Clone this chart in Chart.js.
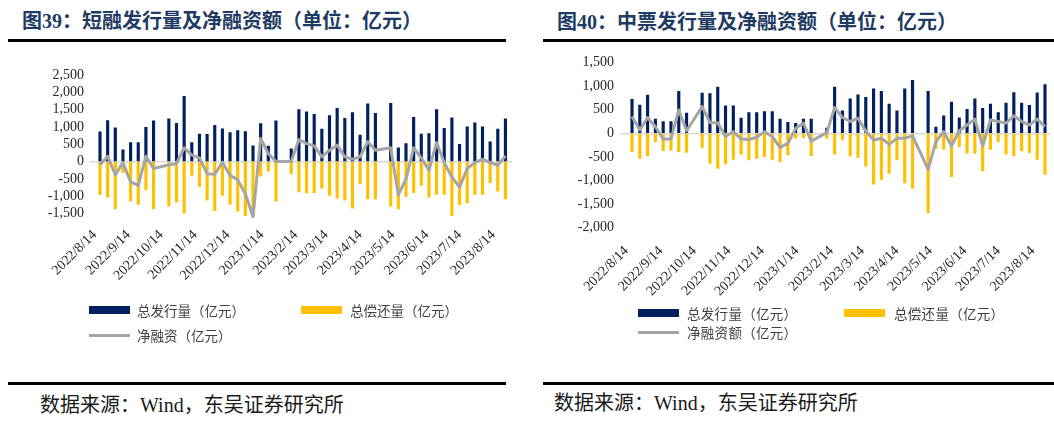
<!DOCTYPE html>
<html><head><meta charset="utf-8">
<script src="https://cdn.jsdelivr.net/npm/chart.js@4.4.0/dist/chart.umd.min.js"></script>
<style>
body{margin:0;width:1054px;height:421px;background:#fff;position:relative;overflow:hidden;font-family:"Liberation Serif","Noto Sans CJK SC",serif;}
.abs{position:absolute;}
.title{font-size:20px;font-weight:bold;color:#1f3b63;white-space:nowrap;line-height:20px;}
.rule{height:3px;background:#000;}
.src{font-size:20px;color:#1a1a1a;white-space:nowrap;line-height:20px;}
.lg{font-size:13.5px;color:#404040;white-space:nowrap;line-height:14px;font-family:"Noto Sans CJK SC",sans-serif;}
.sw{height:8px;}
.ln{height:2.5px;background:#A5A5A5;}
canvas{position:absolute;}
</style></head>
<body>
<div class="abs title" style="left:22px;top:11px;">图39：短融发行量及净融资额（单位：亿元）</div>
<div class="abs title" style="left:557px;top:12px;">图40：中票发行量及净融资额（单位：亿元）</div>
<div class="abs rule" style="left:8px;top:39px;width:498px;"></div>
<div class="abs rule" style="left:543px;top:39px;width:511px;"></div>

<canvas id="c1" width="520" height="250" style="left:0;top:50px;"></canvas>
<canvas id="c2" width="527" height="270" style="left:527px;top:40px;"></canvas>

<div class="abs sw" style="left:89px;top:306px;width:41px;background:#002060;"></div>
<div class="abs lg" style="left:137px;top:303px;">总发行量（亿元）</div>
<div class="abs sw" style="left:301px;top:306px;width:41px;background:#FFC000;"></div>
<div class="abs lg" style="left:350px;top:303px;">总偿还量（亿元）</div>
<div class="abs ln" style="left:89px;top:334px;width:41px;"></div>
<div class="abs lg" style="left:137px;top:328px;">净融资（亿元）</div>

<div class="abs sw" style="left:638px;top:309px;width:41px;background:#002060;"></div>
<div class="abs lg" style="left:687px;top:306px;letter-spacing:0.3px;">总发行量（亿元）</div>
<div class="abs sw" style="left:844px;top:309px;width:41px;background:#FFC000;"></div>
<div class="abs lg" style="left:894px;top:306px;letter-spacing:0.3px;">总偿还量（亿元）</div>
<div class="abs ln" style="left:638px;top:331px;width:41px;"></div>
<div class="abs lg" style="left:687px;top:325px;letter-spacing:0.3px;">净融资额（亿元）</div>

<div class="abs rule" style="left:8px;top:382px;width:498px;"></div>
<div class="abs rule" style="left:543px;top:382px;width:511px;"></div>
<div class="abs src" style="left:40px;top:395px;">数据来源：Wind，东吴证券研究所</div>
<div class="abs src" style="left:554px;top:393px;">数据来源：Wind，东吴证券研究所</div>

<script>
// weekly observation dates
const dates = ["2022/8/19","2022/8/26","2022/9/2","2022/9/9","2022/9/16","2022/9/23","2022/9/30","2022/10/7","2022/10/14","2022/10/21","2022/10/28","2022/11/4","2022/11/11","2022/11/18","2022/11/25","2022/12/2","2022/12/9","2022/12/16","2022/12/23","2022/12/30","2023/1/6","2023/1/13","2023/1/20","2023/1/27","2023/2/3","2023/2/10","2023/2/17","2023/2/24","2023/3/3","2023/3/10","2023/3/17","2023/3/24","2023/3/31","2023/4/7","2023/4/14","2023/4/21","2023/4/28","2023/5/5","2023/5/12","2023/5/19","2023/5/26","2023/6/2","2023/6/9","2023/6/16","2023/6/23","2023/6/30","2023/7/7","2023/7/14","2023/7/21","2023/7/28","2023/8/4","2023/8/11","2023/8/18","2023/8/25"];
const tickLabels = ["2022/8/14","2022/9/14","2022/10/14","2022/11/14","2022/12/14","2023/1/14","2023/2/14","2023/3/14","2023/4/14","2023/5/14","2023/6/14","2023/7/14","2023/8/14"];

// 短融 (CP)
const cpIssue = [860,1190,980,340,550,550,990,1180,null,1240,1110,1890,550,800,790,1050,950,840,900,870,455,1100,450,1180,null,370,1510,1440,1370,940,1330,1540,1250,1420,770,1670,1400,null,1690,400,520,1280,800,810,1510,960,1270,500,1010,1120,1010,570,940,1240];
const cpRepay = [-960,-1030,-1370,-320,-1150,-1240,-820,-1370,null,-1290,-1170,-1490,-400,-720,-1120,-1420,-980,-1240,-1440,-1570,-1580,-420,-280,-1150,null,-350,-880,-910,-900,-770,-980,-1060,-1120,-1350,-650,-1080,-1080,null,-1290,-1370,-1010,-900,-690,-1030,-950,-950,-1560,-1250,-1200,-950,-950,-610,-860,-1080];
const cpNet = [-90,155,-380,-30,-590,-690,155,-200,null,-90,-60,400,185,105,-350,-370,-20,-400,-530,-930,-1600,670,230,0,0,0,640,520,455,135,330,475,135,70,135,580,330,null,400,-960,-510,400,105,-250,550,-30,-450,-740,-200,-30,70,-30,-105,165];

// 中票 (MTN)
const mtnIssue = [720,600,810,300,250,250,890,430,null,850,840,980,580,580,320,440,440,460,460,300,230,210,300,300,null,110,980,475,730,815,760,940,890,620,475,940,1120,null,890,130,370,660,330,510,730,530,620,440,640,865,640,590,860,1030];
const mtnRepay = [-390,-530,-475,-180,-370,-355,-390,-405,null,-300,-640,-745,-650,-555,-440,-565,-530,-495,-555,-605,-460,-105,-90,-475,null,-105,-440,-140,-480,-510,-695,-1080,-980,-850,-565,-1050,-1170,null,-1680,-320,-340,-920,-285,-425,-425,-795,-340,-175,-440,-480,-375,-410,-555,-870];
const mtnNet = [355,70,335,140,-120,-120,495,55,null,565,225,225,-70,35,-120,-130,-85,35,-70,-300,-215,105,215,-165,null,15,545,335,250,320,50,-140,-105,-235,-105,-105,-55,null,-765,-175,35,-270,55,175,300,-270,285,250,215,370,250,175,300,140];

const cpYTicks = [-1500,-1000,-500,0,500,1000,1500,2000,2500];
const mtnYTicks = [-2000,-1500,-1000,-500,0,500,1000,1500];

function dayNum(s){const p=s.split('/').map(Number);return (Date.UTC(p[0],p[1]-1,p[2])-Date.UTC(2022,7,14))/86400000;}
const xDays = dates.map(dayNum);
const tickDays = tickLabels.map(dayNum);
function pts(vals){return vals.map((v,i)=>({x:xDays[i],y:v}));}

function makeChart(id, issue, repay, net, cfg){
  new Chart(document.getElementById(id), {
    type:'bar',
    data:{datasets:[
      {type:'line',label:'net',data:pts(net),borderColor:'#A5A5A5',borderWidth:3,pointRadius:0,tension:0,spanGaps:true,order:0,clip:false,borderJoinStyle:'round'},
      {label:'issue',data:pts(issue),backgroundColor:'#002060',barThickness:2.5,grouped:false,order:1},
      {label:'repay',data:pts(repay),backgroundColor:'#FFC000',barThickness:2.5,grouped:false,order:2}
    ]},
    options:{
      responsive:false, animation:false, devicePixelRatio:1,
      layout:{padding:cfg.pad},
      plugins:{legend:{display:false},tooltip:{enabled:false}},
      scales:{
        x:{type:'linear',offset:false,min:cfg.xmin,max:cfg.xmax,
          grid:{display:false},border:{display:false},
          afterBuildTicks:s=>{s.ticks=tickDays.map(v=>({value:v}));},
          afterFit:s=>{s.height=cfg.xh;},
          ticks:{autoSkip:false,maxRotation:45,minRotation:45,padding:cfg.xpad,
            font:{family:'Liberation Serif',size:14},color:'#262626',
            callback:(v,i)=>tickLabels[i]}},
        y:{min:cfg.ymin,max:cfg.ymax,
          afterBuildTicks:s=>{s.ticks=cfg.yticks.map(v=>({value:v}));},
          afterFit:s=>{s.width=cfg.yw;},
          grid:{drawTicks:false,lineWidth:1.5,color:c=>(c.tick&&c.tick.value===0)?'#D9D9D9':'rgba(0,0,0,0)'},
          border:{display:false},
          ticks:{autoSkip:false,padding:6,font:{family:'Liberation Serif',size:14},color:'#262626',
            callback:v=>Number(v).toLocaleString('en-US')}}
      }
    }
  });
}

makeChart('c1', cpIssue, cpRepay, cpNet, {pad:{left:0,right:8,top:25.3,bottom:3.2},xh:80,xpad:2,yw:90,xmin:-4.15,xmax:382,ymin:-1600,ymax:2500,yticks:cpYTicks});
makeChart('c2', mtnIssue, mtnRepay, mtnNet, {pad:{left:0,right:4,top:22.5,bottom:2.3},xh:80,xpad:7,yw:93,xmin:-5.8,xmax:380.5,ymin:-2000,ymax:1500,yticks:mtnYTicks});
</script>
</body></html>
